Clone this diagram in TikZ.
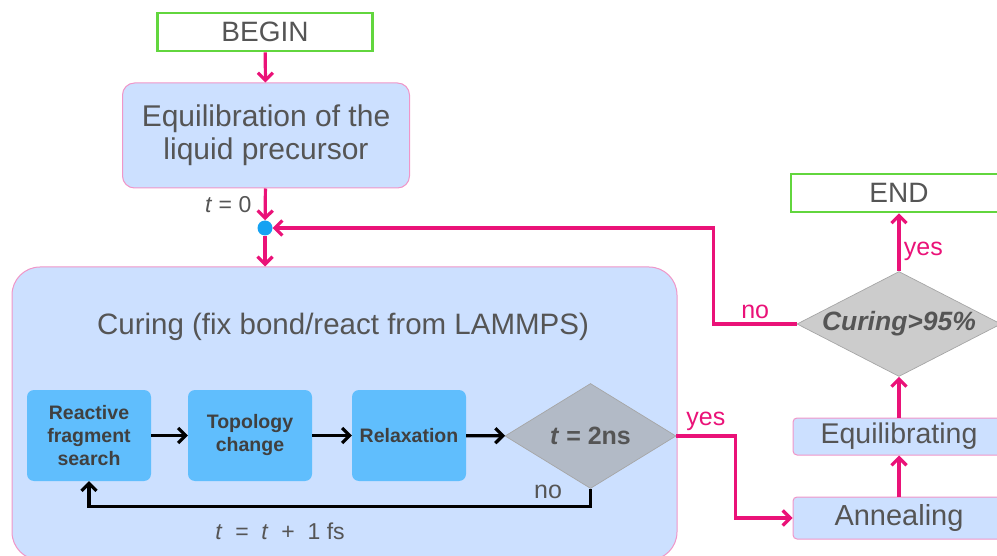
\documentclass[tikz,border=0pt]{standalone}
\usepackage{fontspec}
\setmainfont{Liberation Sans}
\usetikzlibrary{positioning, shapes.geometric, arrows.meta}

\definecolor{flowpink}{RGB}{234,18,120}
\definecolor{boxblue}{RGB}{204,224,255}
\definecolor{boxedge}{RGB}{240,150,200}
\definecolor{stepblue}{RGB}{96,190,253}
\definecolor{startgreen}{RGB}{98,214,62}
\definecolor{textgray}{RGB}{85,85,85}
\definecolor{dotblue}{RGB}{22,162,242}
\definecolor{checkgray}{RGB}{178,186,198}

\begin{document}
\begin{tikzpicture}[
    x=1pt, y=-1pt,
    >={Straight Barb[length=7.5pt, width=15pt]},
    terminal/.style={rectangle, draw=startgreen, line width=2.8pt, fill=white,
        minimum height=38pt, text=textgray, font=\fontsize{28}{30}\selectfont},
    stage/.style={rectangle, rounded corners=12pt, draw=boxedge, fill=boxblue,
        line width=1pt, text=textgray, align=center},
    substep/.style={rectangle, rounded corners=7pt, fill=stepblue, minimum height=91pt,
        text=black!75, align=center, font=\fontsize{19.5}{23}\selectfont\bfseries},
    decision/.style={diamond, draw=gray!70, inner sep=0pt, text=textgray,
        line width=0.7pt},
    flow/.style={->, flowpink, line width=3.2pt},
    inner/.style={->, black, line width=3.2pt},
    answer/.style={text=flowpink, font=\fontsize{25}{27}\selectfont}
]
\useasboundingbox (0,0) rectangle (997,556);
\clip (0,0) rectangle (997,556);

% Start and first equilibration
\node[terminal, minimum width=215pt] (begin) at (265,32) {BEGIN};
\node[stage, minimum width=287pt, minimum height=105pt,
      font=\fontsize{30}{33}\selectfont] (equil) at (266,135.5)
      {Equilibration of the\\liquid precursor};
\node[circle, fill=dotblue, inner sep=0pt, minimum size=15pt] (dot) at (265,228) {};

% Curing block
\node[stage, rounded corners=28pt, minimum width=665pt, minimum height=293pt] (curing)
      at (344.5,413.5) {};
\node[text=textgray, font=\fontsize{29.5}{31}\selectfont] (curingtitle) at (343,327)
      {Curing (fix bond/react from LAMMPS)};

\node[substep, minimum width=124pt] (search) at (89,435.5) {Reactive\\fragment\\search};
\node[substep, minimum width=124pt] (topo) at (250,435.5) {Topology\\change};
\node[substep, minimum width=114pt] (relax) at (409,435.5) {Relaxation};
\node[decision, fill=checkgray, aspect=1.63, minimum width=171pt, minimum height=105pt,
      font=\fontsize{25}{27}\selectfont\bfseries] (check) at (590.5,436) {\textit{t} = 2ns};

\node[text=textgray, font=\fontsize{25}{27}\selectfont] (again) at (548,492) {no};
\node[text=textgray, font=\fontsize{23}{25}\selectfont] (step) at (280,531)
      {\textit{t}\ \ =\ \ \textit{t}\ \ +\ \ 1 fs};

% Right column
\node[stage, rounded corners=4pt, minimum width=212pt, minimum height=42pt,
      font=\fontsize{29}{31}\selectfont] (anneal) at (899,518) {Annealing};
\node[stage, rounded corners=4pt, minimum width=212pt, minimum height=37pt,
      font=\fontsize{28.5}{30}\selectfont] (equilb) at (899,436.5) {Equilibrating};
\node[decision, fill=gray!40, aspect=2, minimum width=204pt, minimum height=105pt,
      font=\fontsize{26.5}{28}\selectfont\bfseries\itshape] (final) at (899,324) {Curing>95\%};
\node[terminal, minimum width=216pt] (done) at (899,193) {END};

% Connectors
\draw[flow] (begin) -- (equil);
\draw[flow] (equil) -- node[left, xshift=-9pt, text=textgray,
      font=\fontsize{23}{25}\selectfont] {\textit{t} = 0} (dot);
\draw[flow] (dot) -- (dot |- curing.north);

\draw[inner] (search) -- (topo);
\draw[inner] (topo) -- (relax);
\draw[inner] (relax) -- (check);
\draw[inner] (check.south) -- ++(0,18) -| (search.south);

\draw[flow] (check.east) -- node[answer, above] {yes} ++(59,0) |- (anneal.west);
\draw[flow] (anneal) -- (equilb);
\draw[flow] (equilb) -- (final);
\draw[flow] (final) -- node[answer, right, pos=0.35] {yes} (done);
\draw[flow] (final.west) -- node[answer, above] {no} ++(-83,0) |- (dot);

\end{tikzpicture}
\end{document}
